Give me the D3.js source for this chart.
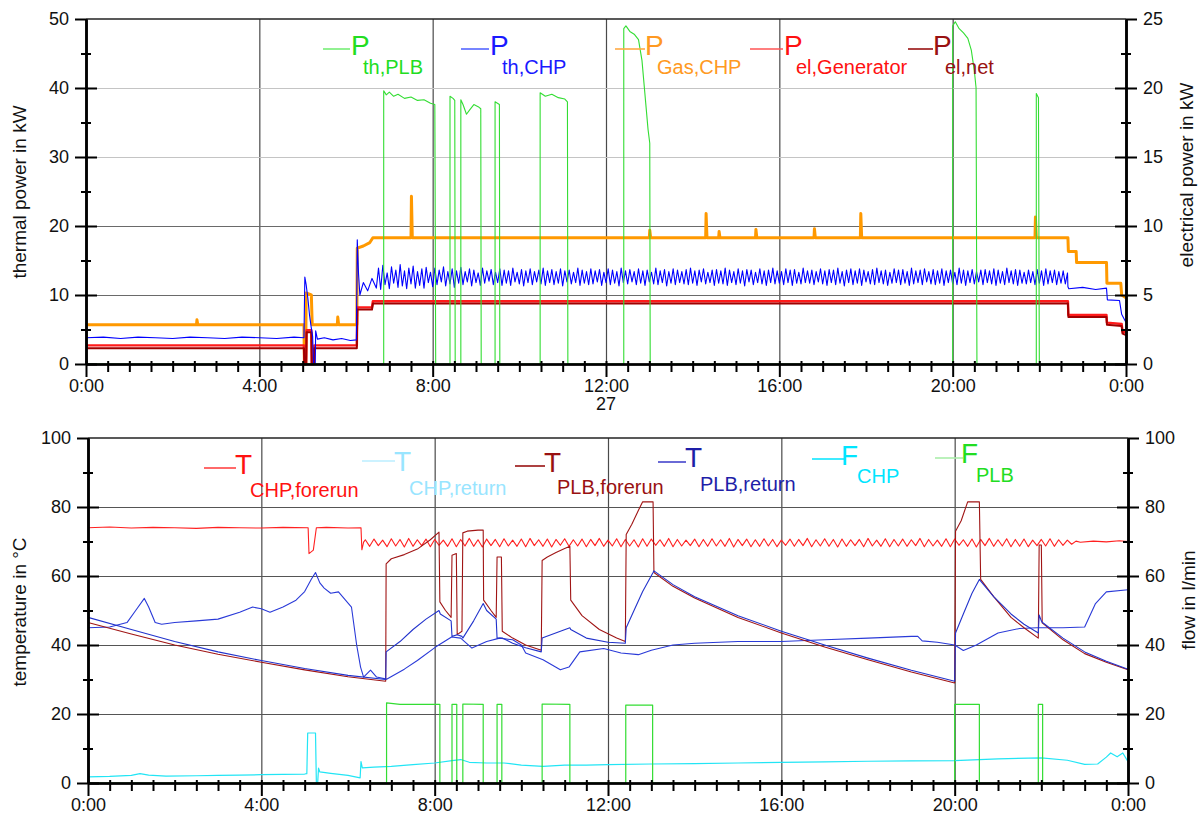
<!DOCTYPE html>
<html>
<head>
<meta charset="utf-8">
<script src="https://cdnjs.cloudflare.com/ajax/libs/d3/7.8.5/d3.min.js"></script>
<style>
  body { margin: 0; background: #fff; }
  text { font-family: "Liberation Sans", Arial, sans-serif; }
</style>
</head>
<body>
<script>
//Ticks and labels
var hourTicks = [0, 4, 8, 12, 16, 20, 24];
var thermalTicks = [0, 10, 20, 30, 40, 50];
var elecTicks = [0, 5, 10, 15, 20, 25];
var tempTicks = [0, 20, 40, 60, 80, 100];
var dayLabel = "27";

//Top panel data, time in hours, thermal kW (left) / electrical kW (right)
var pThPLB = [[0,0],[6.87,0],[6.87,39.6],[6.93,39.0],[7.0,39.4],[7.1,38.8],[7.2,39.1],[7.35,38.5],[7.5,38.7],[7.65,38.2],[7.8,38.3],[7.95,37.8],[8.05,37.6],[8.07,0],
  [8.40,0],[8.40,38.8],[8.47,38.5],[8.51,38.2],[8.52,0],
  [8.65,0],[8.65,38.3],[8.7,37.6],[8.78,36.2],[8.85,36.8],[8.95,37.6],[9.05,37.3],[9.11,37.0],[9.12,0],
  [9.44,0],[9.44,38.0],[9.54,37.6],[9.55,0],
  [10.48,0],[10.48,39.3],[10.6,38.8],[10.75,39.1],[10.9,38.6],[11.05,38.4],[11.11,38.0],[11.12,0],
  [12.41,0],[12.41,48.6],[12.46,49.0],[12.55,48.2],[12.65,47.8],[12.75,47.0],[12.83,44.0],[12.9,39.0],[12.97,34.0],[13.01,32.0],[13.02,0],
  [20.0,0],[20.0,49.0],[20.06,49.6],[20.15,48.6],[20.25,48.0],[20.35,47.2],[20.43,45.5],[20.5,42.5],[20.54,40.0],[20.56,0],
  [21.93,0],[21.93,39.2],[21.98,38.6],[22.0,0],[24,0]];

var pThCHPstart = [[0,3.8],[0.4,3.9],[0.8,3.7],[1.2,3.9],[1.6,3.8],[2.0,3.7],[2.4,3.9],[2.8,3.8],[3.2,3.7],[3.6,3.9],[4.0,3.8],[4.4,3.7],[4.8,3.9],[5.03,3.8],
  [5.05,12.6],[5.08,11.5],[5.12,9.5],[5.16,7.0],[5.2,5.2],[5.23,4.0],[5.25,0],[5.29,0],[5.3,4.8],[5.34,3.6],[5.5,3.8],[5.7,3.5],[5.9,3.7],[6.1,3.4],[6.24,3.5],
  [6.26,18.0],[6.29,13.0],[6.32,10.0],[6.4,11.8],[6.5,10.6],[6.6,12.4]];
// oscillating part, one value every 0.05 h from 6.7 h
var pThCHPosc = [
  11.0,13.9,10.8,14.3,11.5,13.2,10.9,14.1,11.7,13.6,11.1,14.4,11.3,13.5,10.9,13.9,11.6,14.2,11.0,13.4,
  11.4,13.8,11.0,14.0,11.8,13.3,11.2,13.9,11.5,13.6,11.9,14.1,11.3,13.4,11.6,13.8,11.1,13.5,11.7,14.0,
  11.5,13.4,11.9,13.8,11.3,13.6,11.8,13.2,11.4,13.9,11.7,13.5,12.0,13.7,11.5,13.3,11.8,13.8,11.4,13.6,
  11.7,13.5,11.4,13.9,11.9,13.3,11.6,13.7,11.3,13.5,11.8,13.8,11.5,13.4,11.9,13.6,11.6,13.9,11.4,13.5,
  11.8,13.7,11.5,13.4,11.7,13.8,11.3,13.5,11.9,13.6,11.6,13.3,11.8,13.9,11.4,13.6,11.7,13.4,11.5,13.8,
  11.6,13.5,11.9,13.7,11.4,13.3,11.8,13.8,11.5,13.6,11.7,13.4,11.3,13.9,11.8,13.5,11.6,13.7,11.9,13.4,
  11.5,13.8,11.7,13.5,11.4,13.6,11.9,13.3,11.6,13.9,11.5,13.5,11.8,13.7,11.3,13.4,11.7,13.8,11.5,13.6,
  11.8,13.4,11.6,13.7,11.5,13.9,11.7,13.5,11.4,13.6,11.9,13.8,11.6,13.3,11.8,13.6,11.4,13.7,11.7,13.5,
  11.6,13.9,11.4,13.6,11.8,13.4,11.5,13.8,11.7,13.5,11.3,13.7,11.9,13.6,11.5,13.3,11.8,13.8,11.6,13.5,
  11.4,13.6,11.8,13.9,11.6,13.5,11.7,13.4,11.5,13.8,11.8,13.6,11.4,13.7,11.7,13.3,11.6,13.9,11.8,13.5,
  11.7,13.6,11.5,13.4,11.9,13.8,11.6,13.5,11.4,13.7,11.8,13.6,11.5,13.9,11.7,13.4,11.3,13.6,11.8,13.8,
  11.5,13.5,11.7,13.8,11.4,13.6,11.9,13.4,11.6,13.7,11.5,13.9,11.8,13.5,11.6,13.6,11.4,13.3,11.7,13.8,
  11.8,13.6,11.5,13.7,11.7,13.4,11.4,13.9,11.6,13.5,11.8,13.6,11.5,13.8,11.9,13.4,11.6,13.7,11.5,13.5,
  11.7,13.8,11.4,13.5,11.8,13.6,11.6,13.3,11.5,13.9,11.7,13.6,11.4,13.5,11.8,13.7,11.6,13.4,11.9,13.6,
  11.5,13.7,11.8,13.5,11.6,13.8,11.4,13.6,11.7,13.4,11.5,13.9,11.8,13.5,11.6,13.7,11.4,13.6,11.7,13.3,
  11.6,13.6,11.8,13.4,11.5,13.7,11.7,13.5,11.4,13.8,11.6,13.5,11.8,13.6,11.5,13.4,11.7,13.5,11.6,13.2];
var pThCHPend = [[22.66,11.2],[22.68,10.9],[23.0,11.1],[23.3,10.8],[23.55,11.0],[23.57,9.3],[23.85,9.2],[23.9,7.2],[24,6.0]];

var pGasCHP = [[0,5.7],[2.55,5.7],[2.56,6.4],[2.58,5.7],[5.03,5.7],[5.04,0],[5.07,0],[5.08,10.3],[5.2,10.0],[5.22,5.7],[5.8,5.7],[5.81,6.8],[5.83,5.7],[6.25,5.7],
  [6.26,16.8],[6.4,17.1],[6.55,17.6],[6.62,18.3],[7.5,18.3],[7.51,24.3],[7.53,18.3],[13.0,18.3],[13.01,19.4],[13.03,18.3],[14.3,18.3],[14.31,21.8],[14.33,18.3],
  [14.6,18.3],[14.61,19.2],[14.63,18.3],[15.45,18.3],[15.46,19.5],[15.48,18.3],[16.8,18.3],[16.81,19.6],[16.83,18.3],[17.87,18.3],[17.88,21.8],[17.9,18.3],
  [21.9,18.3],[21.91,21.3],[21.93,18.3],[22.66,18.3],[22.67,16.3],[22.85,16.3],[22.86,14.7],[23.55,14.7],[23.56,11.7],[23.88,11.7],[23.9,10.0],[24,9.6]];

var pElGen = [[0,1.35],[5.03,1.35],[5.04,0],[5.08,0],[5.09,2.45],[5.2,2.45],[5.21,0],[5.26,0],[5.27,1.35],[6.25,1.35],[6.26,4.1],[6.6,4.1],[6.62,4.55],
  [22.66,4.55],[22.67,3.55],[23.55,3.55],[23.56,3.0],[23.9,2.9],[23.92,2.35],[24,2.3]];
var pElNet = [[0,1.15],[5.03,1.15],[5.04,0],[5.08,0],[5.09,2.3],[5.2,2.3],[5.21,0],[5.26,0],[5.27,1.15],[6.25,1.15],[6.26,3.95],[6.6,3.95],[6.62,4.38],
  [22.66,4.38],[22.67,3.4],[23.55,3.4],[23.56,2.85],[23.9,2.75],[23.92,2.2],[24,2.1]];

//Bottom panel data, temperature in °C (left) / flow in l/min (right)
var tCHPforeStart = [[0,74],[0.5,74.2],[1,73.9],[1.5,74.1],[2,74],[2.5,73.8],[3,74.1],[3.5,74],[4,73.9],[4.5,74.1],[5.08,74],[5.1,66.5],[5.2,67.5],[5.27,74],
  [5.5,74.1],[6.0,73.9],[6.3,74],[6.32,67.6],[6.36,69.8]];
// oscillating part, one value every 0.1 h from 6.4 h
var tCHPforeOsc = [
  70.5,68.6,70.7,68.8,70.4,68.5,70.8,68.7,70.6,68.4,
  70.9,68.6,70.5,68.8,70.7,68.5,70.6,68.9,70.4,68.6,
  70.8,68.5,70.6,68.7,70.9,68.6,70.5,68.4,70.7,68.8,
  70.6,68.5,70.8,68.7,70.4,68.6,70.7,68.5,70.9,68.8,
  70.5,68.6,70.7,68.4,70.6,68.9,70.8,68.6,70.5,68.7,
  70.7,68.5,70.6,68.8,70.9,68.6,70.4,68.7,70.8,68.5,
  70.6,68.7,70.5,68.4,70.8,68.6,70.7,68.9,70.5,68.6,
  70.9,68.5,70.6,68.7,70.4,68.8,70.7,68.5,70.6,68.6,
  70.8,68.7,70.5,68.6,70.9,68.4,70.6,68.8,70.7,68.5,
  70.5,68.6,70.8,68.7,70.6,68.5,70.4,68.9,70.7,68.6,
  70.6,68.8,70.9,68.5,70.5,68.7,70.8,68.6,70.6,68.4,
  70.7,68.6,70.5,68.8,70.6,68.5,70.9,68.7,70.4,68.6,
  70.8,68.5,70.6,68.7,70.7,68.6,70.5,68.8,70.9,68.5,
  70.6,68.7,70.4,68.6,70.8,68.5,70.7,68.9,70.5,68.6,
  70.7,68.4,70.6,68.8,70.9,68.6,70.5,68.7,70.8,68.5,
  70.6,68.6,70.7,68.5,70.4,68.8,70.6,68.7,70.8,68.6,
  70.5,68.9,70.4,69.2,70.1];
var tCHPforeEnd = [[22.9,69.8],[23.2,70.1],[23.5,69.9],[23.8,70.2],[24,70]];

var tCHPret = [[0,45],[0.5,45.2],[0.9,46.5],[1.1,50],[1.3,53.5],[1.4,51],[1.55,46.5],[1.7,46],[2,46.5],[2.5,47],[3,47.5],[3.5,49.5],[3.8,51],[4.0,50.5],
  [4.2,49.5],[4.5,51],[4.8,53],[5.0,55.5],[5.15,59],[5.25,61],[5.35,58],[5.45,56.5],[5.6,55],[5.78,55.4],[6.08,51],[6.2,40],[6.29,33.6],[6.36,30.7],
  [6.52,32.7],[6.66,30.7],[6.89,30.1],[7.3,33],[7.6,35.5],[8.02,39.4],[8.39,42.3],[8.6,42],[8.86,39.1],[9.2,41],[9.5,42],[9.8,41.5],[10.0,40],
  [10.1,37.7],[10.5,35.7],[10.9,32.8],[11.1,33.6],[11.35,38],[11.9,39],[12.3,37.7],[12.7,37.2],[13.0,38.5],[13.5,40],[14,40.5],[15,41],[16,41],
  [17,41.5],[18,42],[19,42.5],[19.15,42.5],[19.25,41.2],[19.6,40.8],[20.0,40],[20.2,38.4],[20.5,40],[21.0,43.5],[21.5,44.8],[21.9,45],[22.5,45],
  [23.0,45.2],[23.25,52],[23.5,55.4],[24,56]];

var tPLBfore = [[0,46.5],[1,43.2],[2,40],[3,37.3],[4,35],[5,32.8],[6,30.8],[6.87,29.5],[6.88,63.5],[7.0,65],[7.3,66.2],[7.6,67.8],[7.9,70.5],[8.1,72.7],
  [8.12,52.5],[8.25,50],[8.38,48],[8.4,66],[8.5,66.5],[8.52,43],[8.63,44],[8.65,72.5],[8.75,73],[9.0,73.3],[9.12,73.3],[9.13,53],[9.3,50],[9.42,48],
  [9.44,65.5],[9.54,65.5],[9.56,44],[9.8,42],[10.1,40],[10.46,38.5],[10.48,64.5],[10.6,65.5],[10.8,66.8],[11.0,68],[11.12,68.6],[11.14,53],[11.4,48.5],
  [11.8,44.5],[12.2,42],[12.4,41],[12.42,72],[12.55,75],[12.7,79],[12.8,81.5],[13.04,81.5],[13.06,61],[13.5,57],[14,53.6],[15,48],[16,43.5],[17,39.4],
  [18,35.7],[19,32.2],[20,29],[20.02,73],[20.15,76],[20.3,81.5],[20.57,81.5],[20.6,59],[20.9,54],[21.3,48],[21.6,45],[21.93,42],[21.95,69],[22.0,69],
  [22.02,46.4],[22.5,41.5],[23,37.5],[23.5,35],[24,32.8]];

var tPLBret = [[0,48],[1,44.5],[2,41],[3,38],[4,35.5],[5,33.2],[6,31.2],[6.87,30],[6.88,38],[7.2,41],[7.5,44.5],[7.8,47.5],[8.1,50],[8.13,49],[8.38,47],
  [8.4,42.5],[8.52,43],[8.63,42.5],[8.65,42],[8.9,47],[9.12,52],[9.2,50],[9.42,47.5],[9.44,42],[9.56,42],[9.8,40.5],[10.1,39.2],[10.46,38],[10.48,42],
  [11.12,45],[11.14,44.5],[11.5,42],[12.0,40.8],[12.4,40.5],[12.42,45],[12.6,50],[12.8,55.5],[13.04,61],[13.06,61.5],[13.5,57.5],[14,54],[15,48.5],
  [16,44],[17,40],[18,36.2],[19,32.7],[20,29.5],[20.02,43.5],[20.2,49],[20.4,55],[20.57,59],[20.6,58.5],[20.9,54],[21.3,49],[21.6,46],[21.93,43.5],
  [21.95,48.7],[22.0,47],[22.02,46.6],[22.5,42],[23,38],[23.5,35.3],[24,33]];

var fCHP = [[0,1.8],[0.5,1.9],[1.0,2.2],[1.2,2.7],[1.4,2.3],[1.8,2.0],[2.5,2.1],[3,2.2],[3.5,2.3],[4.0,2.4],[4.5,2.5],[5.0,2.6],[5.05,2.7],[5.07,14.5],
  [5.25,14.5],[5.27,0],[5.3,0],[5.32,4.3],[5.35,3.2],[5.6,2.8],[6.0,2.2],[6.28,1.5],[6.3,6.2],[6.33,4.4],[6.6,4.6],[7,4.8],[7.5,5.3],[8,5.8],[8.4,6.5],
  [8.6,6.8],[8.8,6.0],[9.2,5.8],[9.6,5.8],[10,5.2],[10.5,4.8],[11,5.2],[11.5,5.2],[12,5.3],[13,5.5],[14,5.6],[15,5.8],[16,6],[17,6.1],[18,6.3],[19,6.4],
  [20,6.5],[21,7],[22,7.3],[22.6,6.6],[23,5.4],[23.3,5.5],[23.5,7.5],[23.6,8.7],[23.75,7.6],[23.88,8.7],[24,6.2]];

var fPLB = [[0,0],[6.89,0],[6.89,23.2],[7.2,22.8],[8.12,22.8],[8.12,0],[8.40,0],[8.40,22.8],[8.51,22.8],[8.51,0],[8.65,0],[8.65,22.9],[9.12,22.8],[9.12,0],
  [9.44,0],[9.44,22.8],[9.55,22.8],[9.55,0],[10.48,0],[10.48,22.9],[11.12,22.8],[11.12,0],[12.41,0],[12.41,22.6],[13.03,22.6],[13.03,0],
  [20.0,0],[20.0,22.8],[20.57,22.8],[20.57,0],[21.93,0],[21.93,22.8],[22.03,22.8],[22.03,0],[24,0]];

function withOsc(start, t0, step, vals, end) {
  return start.concat(vals.map(function(v, i) { return [t0 + i * step, v]; }), end);
}
var pThCHP = withOsc(pThCHPstart, 6.7, 0.05, pThCHPosc, pThCHPend);
var tCHPfore = withOsc(tCHPforeStart, 6.4, 0.1, tCHPforeOsc, tCHPforeEnd);

//Legend labels
var topLetters = ["P", "P", "P", "P", "P"];
var topSubs = ["th,PLB", "th,CHP", "Gas,CHP", "el,Generator", "el,net"];
var botLetters = ["T", "T", "T", "T", "F", "F"];
var botSubs = ["CHP,forerun", "CHP,return", "PLB,forerun", "PLB,return", "CHP", "PLB"];

//Define SVG
var svg = d3.select("body").append("svg")
    .attr("width", 1204)
    .attr("height", 820);

//Define Scales
var xTop = d3.scaleLinear().domain([0, 24]).range([86, 1126]);
var yThermal = d3.scaleLinear().domain([0, 50]).range([364, 19]);
var yElec = d3.scaleLinear().domain([0, 25]).range([364, 19]);
var xBot = d3.scaleLinear().domain([0, 24]).range([88, 1128]);
var yTemp = d3.scaleLinear().domain([0, 100]).range([783, 438]);
var yFlow = d3.scaleLinear().domain([0, 100]).range([783, 438]);

var hourFmt = function(d) { return (d % 24) + ":00"; };

function drawGrid(x, y, yTicks, colorOf) {
    var y0 = y.range()[0], y1 = y.range()[1];
    var gv = svg.append("g")
        .attr("transform", "translate(0," + y0 + ")")
        .call(d3.axisBottom(x).tickValues([4, 8, 12, 16, 20]).tickSize(-(y0 - y1)).tickFormat(""));
    gv.select(".domain").remove();
    gv.selectAll("line").attr("stroke", "#4a4a4a").attr("stroke-width", 1.2);

    var gh = svg.append("g")
        .attr("transform", "translate(" + x.range()[0] + ",0)")
        .call(d3.axisLeft(y).tickValues(yTicks.slice(1, -1)).tickSize(-(x.range()[1] - x.range()[0])).tickFormat(""));
    gh.select(".domain").remove();
    gh.selectAll("line").attr("stroke", colorOf).attr("stroke-width", 1.2);

    //top frame
    svg.append("line")
        .attr("x1", x(0)).attr("x2", x(24))
        .attr("y1", y1).attr("y2", y1)
        .attr("stroke", "#222").attr("stroke-width", 1.5);
}

function styleAxis(g) {
    g.attr("font-size", 18).attr("font-family", "Liberation Sans, Arial, sans-serif");
    g.selectAll("line, path").attr("stroke", "#000").attr("stroke-width", 2);
    g.selectAll("text").attr("fill", "#111");
}

function drawYAxis(y, xPos, major, minorStep, isLeft) {
    var outer = isLeft ? d3.axisLeft : d3.axisRight;
    var inner = isLeft ? d3.axisRight : d3.axisLeft;
    var d = y.domain();
    var minor = d3.range(d[0] + minorStep, d[1], minorStep * 2);
    var pos = "translate(" + xPos + ",0)";
    svg.append("g").attr("transform", pos)
        .call(outer(y).tickValues(major).tickSize(11).tickPadding(6).tickSizeOuter(0))
        .call(styleAxis);
    svg.append("g").attr("transform", pos)
        .call(inner(y).tickValues(major.slice(0, -1)).tickSize(11).tickSizeOuter(0).tickFormat(""))
        .call(styleAxis);
    svg.append("g").attr("transform", pos)
        .call(outer(y).tickValues(minor).tickSize(5).tickSizeOuter(0).tickFormat(""))
        .call(styleAxis);
    svg.append("g").attr("transform", pos)
        .call(inner(y).tickValues(minor).tickSize(5).tickSizeOuter(0).tickFormat(""))
        .call(styleAxis);
}

function drawXAxis(x, yPos) {
    var pos = "translate(0," + yPos + ")";
    var minor = d3.range(0.5, 24, 0.5).filter(function(h) { return h % 4 !== 0; });
    svg.append("g").attr("transform", pos)
        .call(d3.axisBottom(x).tickValues(hourTicks).tickFormat(hourFmt).tickSize(13).tickPadding(2).tickSizeOuter(0))
        .call(styleAxis);
    svg.append("g").attr("transform", pos)
        .call(d3.axisBottom(x).tickValues(minor).tickSize(8).tickSizeOuter(0).tickFormat(""))
        .call(styleAxis);
    svg.append("g").attr("transform", pos)
        .call(d3.axisTop(x).tickValues(minor.concat(hourTicks)).tickSize(3).tickSizeOuter(0).tickFormat(""))
        .call(styleAxis);
}

function drawSeries(data, x, y, color, width) {
    svg.append("path")
        .datum(data)
        .attr("fill", "none")
        .attr("stroke", color)
        .attr("stroke-width", width)
        .attr("stroke-linejoin", "round")
        .attr("d", d3.line().x(function(d) { return x(d[0]); }).y(function(d) { return y(d[1]); }));
}

function axisTitle(txt, x, y) {
    svg.append("text")
        .attr("transform", "translate(" + x + "," + y + ") rotate(-90)")
        .attr("text-anchor", "middle")
        .attr("font-size", 19)
        .attr("fill", "#111")
        .text(txt);
}

//legend: one text per entry, big letter plus a lowered subscript
function drawLegend(letters, subs, layout) {
    layout.forEach(function(L, i) {
        svg.append("line")
            .attr("x1", L.line[0]).attr("x2", L.line[1])
            .attr("y1", L.line[2]).attr("y2", L.line[2])
            .attr("stroke", L.lineColor).attr("stroke-width", 1.6);
        var t = svg.append("text")
            .attr("x", L.main[0]).attr("y", L.main[1])
            .attr("fill", L.color);
        t.append("tspan").attr("font-size", 28).text(letters[i]);
        t.append("tspan")
            .attr("x", L.sub[0]).attr("y", L.sub[1])
            .attr("font-size", 20)
            .text(subs[i]);
    });
}

//Top panel
drawGrid(xTop, yThermal, thermalTicks, function(d) { return d >= 30 ? "#c4c4c4" : "#6a6a6a"; });
drawSeries(pGasCHP, xTop, yThermal, "#ff9900", 3);
drawSeries(pElGen, xTop, yElec, "#ff1a1a", 2.4);
drawSeries(pElNet, xTop, yElec, "#a00000", 2);
drawSeries(pThCHP, xTop, yThermal, "#0000ff", 1.1);
drawSeries(pThPLB, xTop, yThermal, "#33dd33", 1.1);
drawYAxis(yThermal, 86, thermalTicks, 5, true);
drawYAxis(yElec, 1126, elecTicks, 2.5, false);
drawXAxis(xTop, 364);

svg.append("text")
    .attr("x", xTop(12)).attr("y", 410)
    .attr("text-anchor", "middle")
    .attr("font-size", 18).attr("fill", "#111")
    .text(dayLabel);

axisTitle("thermal power in kW", 26, 192);
axisTitle("electrical power in kW", 1193, 175);

drawLegend(topLetters, topSubs, [
    {line: [323, 350, 49], main: [351, 55], sub: [363, 74], color: "#22dd22", lineColor: "#77ee77"},
    {line: [461, 489, 49], main: [490, 55], sub: [502, 74], color: "#1a1aff", lineColor: "#5566ff"},
    {line: [615, 645, 49], main: [645, 55], sub: [657, 74], color: "#ff9922", lineColor: "#ffaa44"},
    {line: [750, 783, 49], main: [784, 55], sub: [796, 74], color: "#ff1111", lineColor: "#ff5555"},
    {line: [908, 933, 49], main: [933, 55], sub: [945, 74], color: "#991111", lineColor: "#991111"}
]);

//Bottom panel
drawGrid(xBot, yTemp, tempTicks, function() { return "#555"; });
drawSeries(fCHP, xBot, yFlow, "#22e5f5", 1.2);
drawSeries(fPLB, xBot, yFlow, "#33dd33", 1.2);
drawSeries(tCHPfore, xBot, yTemp, "#ff2020", 1.1);
drawSeries(tCHPret, xBot, yTemp, "#2a3ad8", 1.1);
drawSeries(tPLBfore, xBot, yTemp, "#a01515", 1.1);
drawSeries(tPLBret, xBot, yTemp, "#2233cc", 1.1);
drawYAxis(yTemp, 88, tempTicks, 10, true);
drawYAxis(yFlow, 1128, tempTicks, 10, false);
drawXAxis(xBot, 783);

axisTitle("temperature in °C", 26, 612);
axisTitle("flow in l/min", 1195, 600);

drawLegend(botLetters, botSubs, [
    {line: [204, 236, 468], main: [235, 474], sub: [250, 497], color: "#ff1111", lineColor: "#ff4444"},
    {line: [362, 395, 461], main: [394, 471], sub: [409, 495], color: "#99e5ff", lineColor: "#bbeeff"},
    {line: [515, 545, 466], main: [544, 472], sub: [557, 494], color: "#991111", lineColor: "#991111"},
    {line: [658, 686, 462], main: [685, 467], sub: [700, 491], color: "#1e1ea8", lineColor: "#4444cc"},
    {line: [812, 845, 459], main: [841, 465], sub: [857, 483], color: "#00e5ff", lineColor: "#00e5ff"},
    {line: [935, 963, 458], main: [961, 463], sub: [976, 482], color: "#22dd22", lineColor: "#aaeeaa"}
]);
</script>
</body>
</html>
